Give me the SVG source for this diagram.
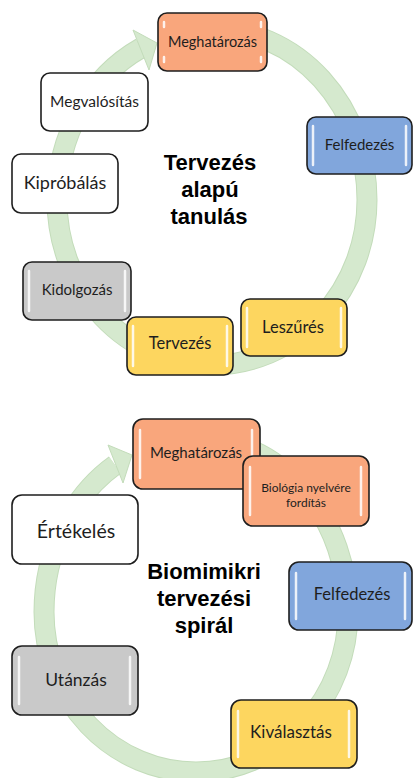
<svg xmlns="http://www.w3.org/2000/svg" width="413" height="778" viewBox="0 0 413 778">
<style>
.ring-o{fill:none;stroke:#c3dcba;stroke-width:21}
.ring-i{fill:none;stroke:#d5e9ce;stroke-width:19}
.head{fill:#d5e9ce;stroke:#c3dcba;stroke-width:1}
.box{stroke:#1e1e1e;stroke-width:1.6}
.orange{fill:#f9a67c}
.blue{fill:#81a6dc}
.yellow{fill:#fdd65f}
.gray{fill:#c9c9c9}
.white{fill:#ffffff}
.gl{stroke:#ffffff;stroke-width:2.5;stroke-linecap:round;opacity:0.85}
.t{font-family:Lato,"Open Sans","DejaVu Sans",sans-serif;fill:#1e1e1e;text-anchor:middle}
.title{font-family:"Liberation Sans",Arial,sans-serif;font-weight:bold;font-size:22px;fill:#000;text-anchor:middle}
</style>
<rect width="413" height="778" fill="#ffffff"/>
<g id="connectors">
  <path class="ring-o" d="M 212 29 A 155 171 0 0 1 367 200 A 155 165 0 0 1 212 365 A 155 165 0 0 1 57 200 A 155 171 0 0 1 141 48"/>
  <path class="ring-i" d="M 212 29 A 155 171 0 0 1 367 200 A 155 165 0 0 1 212 365 A 155 165 0 0 1 57 200 A 155 171 0 0 1 141 48"/>
  <polygon class="head" points="133,30 157,43 149,70"/>
  <path class="ring-o" d="M 196 438 A 152 174 0 0 1 348 612 A 152 160 0 0 1 196 772 A 152 160 0 0 1 44 612 A 152 174 0 0 1 115 465"/>
  <path class="ring-i" d="M 196 438 A 152 174 0 0 1 348 612 A 152 160 0 0 1 196 772 A 152 160 0 0 1 44 612 A 152 174 0 0 1 115 465"/>
  <polygon class="head" points="108,445 132,455 123,483"/>
</g>
<g id="title1">
  <text class="title" x="210" y="170">Tervezés</text>
  <text class="title" x="210" y="197">alapú</text>
  <text class="title" x="209" y="224">tanulás</text>
</g>
<g id="title2">
  <text class="title" x="204" y="579">Biomimikri</text>
  <text class="title" x="204" y="606">tervezési</text>
  <text class="title" x="204" y="633">spirál</text>
</g>
<g id="t-meghatarozas">
  <rect class="box orange" x="158" y="13" width="109" height="58" rx="9"/>
  <path class="gl" d="M164 22 V27 M261 22 V27 M164 57 V62 M261 57 V62"/>
  <text class="t" x="212.5" y="47" font-size="14.5">Meghatározás</text>
</g>
<g id="t-felfedezes">
  <rect class="box blue" x="307" y="117" width="105" height="57" rx="9"/>
  <path class="gl" d="M313 126 V165 M406 126 V165"/>
  <text class="t" x="359.5" y="150" font-size="15">Felfedezés</text>
</g>
<g id="t-leszures">
  <rect class="box yellow" x="241" y="299" width="106" height="57" rx="9"/>
  <path class="gl" d="M247 308 V347 M341 308 V347"/>
  <text class="t" x="293" y="333" font-size="16.5">Leszűrés</text>
</g>
<g id="t-kidolgozas">
  <rect class="box gray" x="23" y="262" width="108" height="58" rx="9"/>
  <path class="gl" d="M29 271 V311 M125 271 V311"/>
  <text class="t" x="77" y="295" font-size="15">Kidolgozás</text>
</g>
<g id="t-tervezes">
  <rect class="box yellow" x="127" y="317" width="106" height="58" rx="9"/>
  <path class="gl" d="M133 326 V366 M227 326 V366"/>
  <text class="t" x="180" y="349" font-size="16.5">Tervezés</text>
</g>
<g id="t-kiprobalas">
  <rect class="box white" x="12" y="154" width="106" height="59" rx="9"/>
  <text class="t" x="65" y="189" font-size="18">Kipróbálás</text>
</g>
<g id="t-megvalositas">
  <rect class="box white" x="41" y="73" width="107" height="58" rx="9"/>
  <text class="t" x="94.5" y="107" font-size="15.5">Megvalósítás</text>
</g>
<g id="b-meghatarozas">
  <rect class="box orange" x="133" y="419" width="127" height="70" rx="10"/>
  <path class="gl" d="M140 430 V478 M252 430 V478"/>
  <text class="t" x="196" y="458" font-size="15">Meghatározás</text>
</g>
<g id="b-biologia">
  <rect class="box orange" x="243" y="456" width="126" height="70" rx="10"/>
  <path class="gl" d="M250 467 V515 M361 467 V515"/>
  <text class="t" x="306" y="492" font-size="12">Biológia nyelvére</text>
  <text class="t" x="306" y="507" font-size="12">fordítás</text>
</g>
<g id="b-felfedezes">
  <rect class="box blue" x="289" y="562" width="123" height="68" rx="10"/>
  <path class="gl" d="M296 573 V619 M405 573 V619"/>
  <text class="t" x="352" y="600" font-size="16.5">Felfedezés</text>
</g>
<g id="b-kivalasztas">
  <rect class="box yellow" x="231" y="700" width="126" height="68" rx="10"/>
  <path class="gl" d="M238 711 V757 M349 711 V757"/>
  <text class="t" x="291" y="738" font-size="17">Kiválasztás</text>
</g>
<g id="b-utanzas">
  <rect class="box gray" x="12" y="646" width="126" height="69" rx="10"/>
  <path class="gl" d="M19 657 V704 M130 657 V704"/>
  <text class="t" x="76" y="686" font-size="17.5">Utánzás</text>
</g>
<g id="b-ertekeles">
  <rect class="box white" x="12" y="495" width="126" height="69" rx="10"/>
  <text class="t" x="76" y="538" font-size="19.5">Értékelés</text>
</g>
</svg>
